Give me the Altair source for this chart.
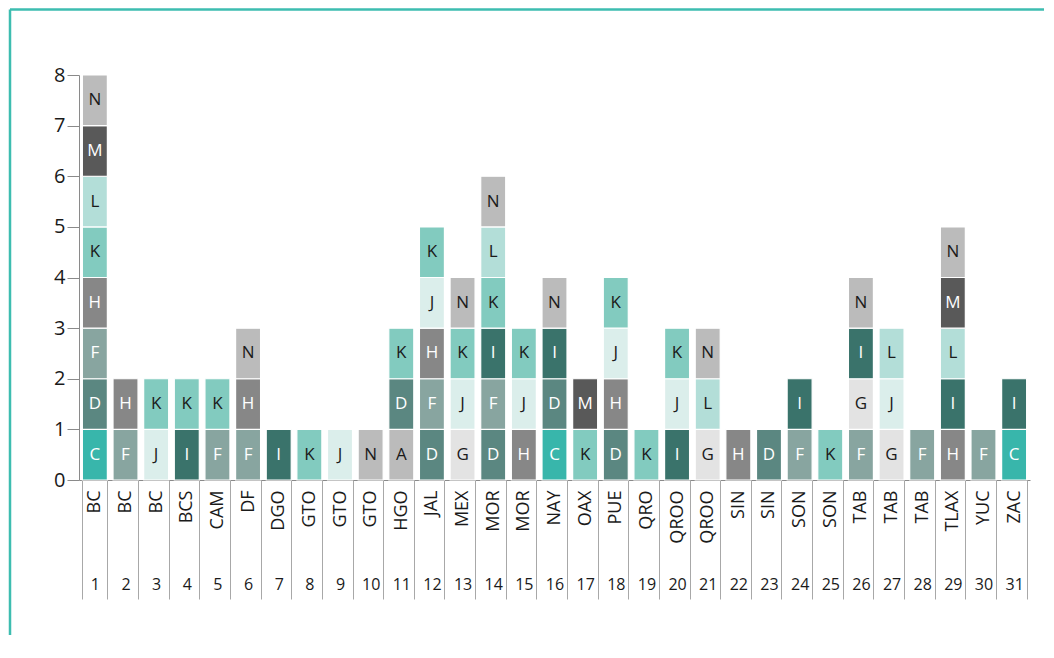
import altair as alt
import pandas as pd

states = ["BC", "BC", "BC", "BCS", "CAM", "DF", "DGO", "GTO", "GTO", "GTO", "HGO",
          "JAL", "MEX", "MOR", "MOR", "NAY", "OAX", "PUE", "QRO", "QROO", "QROO",
          "SIN", "SIN", "SON", "SON", "TAB", "TAB", "TAB", "TLAX", "YUC", "ZAC"]
stacks = [["C", "D", "F", "H", "K", "L", "M", "N"], ["F", "H"], ["J", "K"], ["I", "K"],
          ["F", "K"], ["F", "H", "N"], ["I"], ["K"], ["J"], ["N"], ["A", "D", "K"],
          ["D", "F", "H", "J", "K"], ["G", "J", "K", "N"], ["D", "F", "I", "K", "L", "N"],
          ["H", "J", "K"], ["C", "D", "I", "N"], ["K", "M"], ["D", "H", "J", "K"], ["K"],
          ["I", "J", "K"], ["G", "L", "N"], ["H"], ["D"], ["F", "I"], ["K"],
          ["F", "G", "I", "N"], ["G", "J", "L"], ["F"], ["H", "I", "L", "M", "N"], ["F"],
          ["C", "I"]]
letters = ["A", "C", "D", "F", "G", "H", "I", "J", "K", "L", "M", "N"]
letter_colors = ["#bbbbbb", "#38b6ab", "#5b8781", "#88a5a0", "#e3e3e3", "#878787",
                 "#3a736b", "#dbeeeb", "#82cbbf", "#b3ded8", "#595959", "#bbbbbb"]
white_text = ["C", "D", "F", "H", "I", "M"]
y_ticks = [0, 1, 2, 3, 4, 5, 6, 7, 8]

rows = []
for i, (st, codes) in enumerate(zip(states, stacks)):
    for j, code in enumerate(codes):
        rows.append({"idx": i + 1, "state": st, "code": code,
                     "y0": j, "y1": j + 1, "ymid": j + 0.5})
df = pd.DataFrame(rows)

FONT = "Open Sans"
INK = "#1a1a1a"
label_expr = "[" + ",".join("'" + s + "'" for s in states) + "][datum.value - 1]"

xscale = alt.Scale(paddingInner=0.184, paddingOuter=0.11)
yscale = alt.Scale(domain=[0, 8], nice=False)
yaxis = alt.Axis(title=None, values=y_ticks, grid=False, tickSize=12,
                 tickColor="#8a8a8a", domainColor="#8a8a8a",
                 labelFontSize=20, labelFont=FONT, labelColor=INK,
                 labelPadding=2)

base = alt.Chart(df)

bars = base.mark_bar(stroke="white", strokeWidth=1.2).encode(
    x=alt.X("idx:O", scale=xscale, sort="ascending",
            axis=alt.Axis(title=None, labelExpr=label_expr, labelAngle=-90,
                          labelAlign="right", labelBaseline="middle",
                          ticks=True, tickBand="extent", tickSize=72,
                          tickColor="#8a8a8a", domainColor="#8a8a8a",
                          labelPadding=-62, labelFontSize=18, labelFont=FONT,
                          labelColor=INK, orient="bottom")),
    y=alt.Y("y0:Q", scale=yscale, axis=yaxis),
    y2="y1:Q",
    color=alt.Color("code:N", scale=alt.Scale(domain=letters, range=letter_colors),
                    legend=None),
)

texts = base.mark_text(fontSize=17, font=FONT).encode(
    x=alt.X("idx:O", scale=xscale, sort="ascending",
            axis=alt.Axis(title=None, ticks=True, tickBand="extent", tickSize=119,
                          tickColor="#a8a8a8", domain=False, labelAngle=0,
                          labelPadding=-23, labelFontSize=16, labelFont=FONT,
                          labelColor=INK, orient="bottom")),
    y=alt.Y("ymid:Q", scale=yscale, axis=yaxis),
    text="code:N",
    color=alt.condition(
        alt.FieldOneOfPredicate(field="code", oneOf=white_text),
        alt.value("white"), alt.value(INK)),
)

frame_data = alt.Data(values=[{"k": 1}])
frame_left = alt.Chart(frame_data).mark_rule(color="#3dbdb0", strokeWidth=2.5).encode(
    x=alt.value(-69), y=alt.value(-65.5), y2=alt.value(560))
frame_top = alt.Chart(frame_data).mark_rule(color="#3dbdb0", strokeWidth=2.5).encode(
    x=alt.value(-69), x2=alt.value(965), y=alt.value(-65.5))

chart = alt.layer(bars, texts, frame_left, frame_top).resolve_axis(
    x="independent").properties(
    width=951, height=405,
    padding={"left": 0, "top": 0, "right": 0, "bottom": 0},
).configure_view(stroke=None)

chart.save("out.html", embed_options={"renderer": "svg", "actions": False})
